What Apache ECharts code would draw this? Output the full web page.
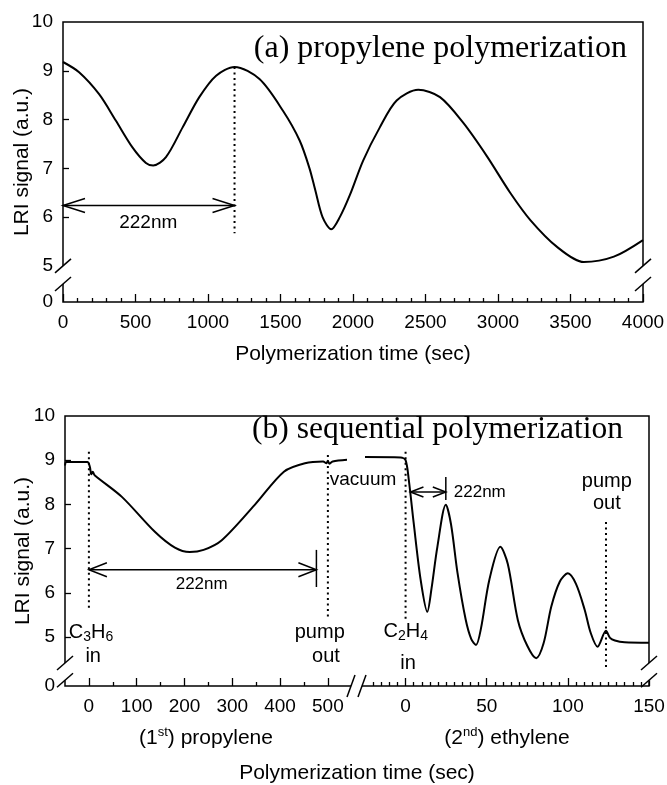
<!DOCTYPE html>
<html>
<head>
<meta charset="utf-8">
<script src="https://cdn.jsdelivr.net/npm/echarts@6.0.0/dist/echarts.min.js"></script>
<style>
  html, body { margin: 0; padding: 0; background: #fff; }
  #chart { width: 667px; height: 785px; }
</style>
</head>
<body>
<div id="chart"></div>
<script>
// (a) propylene polymerization
const propTime = [0, 111, 249, 364, 479, 572, 622, 710, 825, 940, 1056, 1183, 1355, 1517, 1632, 1700, 1740, 1790, 1850, 1909, 1978, 2070, 2185, 2301, 2450, 2600, 2761, 2923, 3084, 3223, 3407, 3591, 3799, 4000];
const propSignal = [9.18, 8.97, 8.52, 7.98, 7.43, 7.11, 7.06, 7.23, 7.84, 8.46, 8.90, 9.08, 8.83, 8.18, 7.57, 7.0, 6.55, 6.0, 5.75, 6.00, 6.45, 7.16, 7.84, 8.39, 8.61, 8.46, 7.93, 7.25, 6.5, 5.94, 5.39, 5.08, 5.19, 5.53];

// (b) sequential polymerization, 1st step propylene
const seqPropTime = [-50, -47, -3, 2, 5, 8, 12, 69, 138, 180, 211, 240, 278, 347, 408, 452, 490, 497, 500, 503, 510, 540];
const seqPropSignal = [8.88, 8.96, 8.96, 8.85, 8.68, 8.74, 8.66, 8.17, 7.38, 7.02, 6.92, 6.97, 7.19, 7.99, 8.74, 8.93, 8.97, 8.93, 8.99, 8.92, 8.97, 9.01];

// (b) 2nd step ethylene
const seqEthTime = [-25, -3, 0, 2, 5, 9.3, 13.4, 16, 19.6, 24.8, 28, 32, 37, 40.5, 43.4, 46.5, 51.6, 58.4, 63, 69.2, 75, 80.5, 85, 89.8, 95, 100, 105, 110.4, 114, 118.3, 123.5, 126, 129, 135, 150];
const seqEthSignal = [9.07, 9.06, 9.0, 8.55, 7.58, 6.29, 5.57, 6.1, 7.04, 7.99, 7.55, 6.45, 5.4, 4.95, 4.82, 5.2, 6.29, 7.04, 6.65, 5.38, 4.8, 4.52, 4.85, 5.69, 6.25, 6.44, 6.2, 5.61, 5.1, 4.78, 5.14, 4.98, 4.92, 4.88, 4.87];

// axis labels / ticks
const yLabels = [5, 6, 7, 8, 9, 10];
const yTicksA = [6, 7, 8, 9];
const yTicksB = [5, 6, 7, 8, 9];
const yMinA = 4.26; // bottom of broken axis, shown as "0"
const yMinB = 3.89;
const xLabelsProp = [0, 100, 200, 300, 400, 500];
const xMinorProp = [50, 150, 250, 350, 450];
const xLabelsEth = [0, 50, 100, 150];
const xMinorEth = [];
for (let t = -20; t < 150; t += 5) if (t % 50 !== 0) xMinorEth.push(t);

const black = '#000';
const sans = '"Liberation Sans", Arial, sans-serif';
const serif = '"Liberation Serif", "Times New Roman", serif';
const tickFont = { color: black, fontSize: 19, fontFamily: sans };
const nameFont = { color: black, fontSize: 21, fontFamily: sans };
const tickLine = { color: black, width: 1.3 };
const noLine = { show: false, onZero: false };
const supRich = {
  n: { fontSize: 21, fontFamily: sans, color: black, lineHeight: 24 },
  sup: { fontSize: 13, fontFamily: sans, color: black, lineHeight: 12, verticalAlign: 'top' }
};

const pairs = (xs, ys) => xs.map((x, i) => [x, ys[i]]);

function yAxisFor(gridIndex, min, ticks, nameGap) {
  return {
    type: 'value', gridIndex, min, max: 10,
    axisLine: noLine, splitLine: { show: false },
    axisTick: { show: true, inside: true, length: 6, lineStyle: tickLine, customValues: ticks },
    axisLabel: { ...tickFont, margin: 10, customValues: [min, ...yLabels],
      formatter: v => (v < 5 ? '0' : String(v)) },
    name: 'LRI signal (a.u.)', nameLocation: 'middle', nameGap, nameMoveOverlap: false, nameTextStyle: nameFont
  };
}

function xMain(gridIndex, min, max, labels, name) {
  return {
    type: 'value', gridIndex, min, max, position: 'bottom',
    axisLine: noLine, splitLine: { show: false },
    axisTick: { inside: true, length: 8, lineStyle: tickLine, customValues: labels },
    axisLabel: { ...tickFont, margin: 11, customValues: labels, formatter: v => String(v) },
    name, nameLocation: 'middle', nameGap: 40, nameMoveOverlap: false, nameTextStyle: { ...nameFont, rich: supRich }
  };
}

function xMinor(gridIndex, min, max, ticks) {
  return {
    type: 'value', gridIndex, min, max, position: 'bottom',
    axisLine: noLine, splitLine: { show: false }, axisLabel: { show: false },
    axisTick: { inside: true, length: 4, lineStyle: tickLine, customValues: ticks }
  };
}

const curve = (x, y, data) => ({
  type: 'line', xAxisIndex: x, yAxisIndex: y, data, smooth: 0.3, showSymbol: false, symbol: 'none',
  lineStyle: { color: black, width: 2 }, silent: true
});

const frame = { show: true, borderColor: black, borderWidth: 1.5, backgroundColor: 'transparent', outerBoundsMode: 'none' };
const plain = { show: false, outerBoundsMode: 'none' };
const titleStyle = { fontFamily: serif, fontSize: 32, fontWeight: 'normal', color: black };

const option = {
  animation: false,
  backgroundColor: '#fff',
  title: [
    { text: '(a) propylene polymerization', right: 40, top: 33, padding: 0, textStyle: titleStyle },
    { text: '(b) sequential polymerization', right: 44, top: 414, padding: 0, textStyle: { ...titleStyle, fontSize: 31.5 } }
  ],
  grid: [
    { left: 63, top: 22, width: 580, height: 280, ...frame },
    { left: 65, top: 416, width: 282, height: 270, ...plain },
    { left: 365, top: 416, width: 284, height: 270, ...plain },
    { left: 65, top: 416, width: 584, height: 270, ...frame }
  ],
  xAxis: [
    {
      type: 'value', gridIndex: 0, min: 0, max: 4000, interval: 500,
      axisLine: noLine, splitLine: { show: false },
      axisTick: { inside: true, length: 8, lineStyle: tickLine },
      minorTick: { show: true, splitNumber: 5, length: 4, lineStyle: tickLine },
      axisLabel: { ...tickFont, margin: 11, formatter: v => String(v) },
      name: 'Polymerization time (sec)', nameLocation: 'middle', nameGap: 42, nameMoveOverlap: false, nameTextStyle: nameFont
    },
    xMain(1, -50, 540, xLabelsProp, '{n|(1}{sup|st}{n|) propylene}'),
    xMinor(1, -50, 540, xMinorProp),
    xMain(2, -25, 150, xLabelsEth, '{n|(2}{sup|nd}{n|) ethylene}'),
    xMinor(2, -25, 150, xMinorEth),
    {
      type: 'value', gridIndex: 3, min: 0, max: 1, position: 'bottom',
      axisLine: noLine, axisTick: { show: false }, axisLabel: { show: false }, splitLine: { show: false },
      name: 'Polymerization time (sec)', nameLocation: 'middle', nameGap: 77, nameMoveOverlap: false, nameTextStyle: nameFont
    }
  ],
  yAxis: [
    yAxisFor(0, yMinA, yTicksA, 30),
    yAxisFor(1, yMinB, yTicksB, 31),
    { type: 'value', gridIndex: 2, min: yMinB, max: 10, show: false, axisLine: noLine },
    { type: 'value', gridIndex: 3, min: 0, max: 1, show: false, axisLine: noLine }
  ],
  series: [
    curve(0, 0, pairs(propTime, propSignal)),
    curve(1, 1, pairs(seqPropTime, seqPropSignal)),
    curve(3, 2, pairs(seqEthTime, seqEthSignal))
  ]
};

const chart = echarts.init(document.getElementById('chart'));
chart.setOption(option);

// annotations, placed through the series' own scales
function overlay() {
  const P = (s, x, y) => chart.convertToPixel({ seriesIndex: s }, [x, y]);
  const g = [];
  const line = (a, b, w, dash) => g.push({
    type: 'line', z: 100, silent: true,
    shape: { x1: a[0], y1: a[1], x2: b[0], y2: b[1] },
    style: { stroke: black, lineWidth: w, lineDash: dash || null }
  });
  const poly = (pts, w) => g.push({
    type: 'polyline', z: 100, silent: true, shape: { points: pts },
    style: { stroke: black, lineWidth: w, fill: null }
  });
  const dotted = (s, x, y1, y2) => line(P(s, x, y1), P(s, x, y2), 2, [2, 3.5]);
  const bar = (s, x, y1, y2) => line(P(s, x, y1), P(s, x, y2), 1.5);
  const arrow = (s, x1, x2, y, len, half) => {
    const a = P(s, x1, y), b = P(s, x2, y);
    line(a, b, 1.5);
    poly([[a[0] + len, a[1] - half], a, [a[0] + len, a[1] + half]], 1.5);
    poly([[b[0] - len, b[1] - half], b, [b[0] - len, b[1] + half]], 1.5);
  };
  const text = (s, x, y, str, align, size, rich) => {
    const p = P(s, x, y);
    g.push({ type: 'text', z: 100, silent: true, x: p[0], y: p[1],
      style: { text: str, fill: black, font: size + 'px ' + sans, align, verticalAlign: 'middle', rich } });
  };
  const chem = {
    n: { fontSize: 20, fontFamily: sans, fill: black, lineHeight: 24 },
    s: { fontSize: 14, fontFamily: sans, fill: black, lineHeight: 12, verticalAlign: 'bottom' }
  };
  // broken y axes
  const gapY = (s, x, v1, v2) => {
    const a = P(s, x, v1), b = P(s, x, v2);
    g.push({ type: 'rect', z: 99, silent: true, shape: { x: a[0] - 3, y: a[1], width: 6, height: b[1] - a[1] }, style: { fill: '#fff' } });
    [a, b].forEach(p => line([p[0] - 8, p[1] + 7], [p[0] + 8, p[1] - 7], 1.5));
  };
  gapY(0, 0, 5.0, 4.63);
  gapY(0, 4000, 5.0, 4.63);
  gapY(1, -50, 4.41, 4.02);
  gapY(2, 150, 4.41, 4.02);
  // broken time axis in (b)
  const l = P(1, 540, yMinB), r = P(2, -25, yMinB);
  const c1 = l[0] + 4, c2 = r[0] - 3;
  g.push({ type: 'rect', z: 99, silent: true, shape: { x: c1, y: l[1] - 3, width: c2 - c1, height: 6 }, style: { fill: '#fff' } });
  [c1, c2].forEach(c => line([c - 4, l[1] + 11], [c + 4, l[1] - 11], 1.5));

  // (a)
  dotted(0, 1183, 9.08, 5.67);
  arrow(0, 0, 1183, 6.24, 22, 7);
  text(0, 588, 5.88, '222nm', 'center', 19);

  // (b) propylene
  dotted(1, 0, 9.19, 5.66);
  dotted(1, 500, 9.12, 5.45);
  arrow(1, 0, 476, 6.52, 18, 7);
  bar(1, 476, 6.97, 6.13);
  text(1, 236, 6.18, '222nm', 'center', 17);
  text(1, -42, 5.1, '{n|C}{s|3}{n|H}{s|6}', 'left', 20, chem);
  text(1, 9, 4.55, 'in', 'center', 20);
  text(1, 483, 5.11, 'pump', 'center', 20);
  text(1, 496, 4.55, 'out', 'center', 20);
  text(1, 504, 8.55, 'vacuum', 'left', 19);

  // (b) ethylene
  dotted(2, 0, 9.19, 5.38);
  dotted(2, 123.5, 7.6, 4.3);
  arrow(2, 3, 24.8, 8.28, 13, 5);
  bar(2, 24.8, 8.62, 8.1);
  text(2, 29.7, 8.28, '222nm', 'left', 17);
  text(2, -13.6, 5.13, '{n|C}{s|2}{n|H}{s|4}', 'left', 20, chem);
  text(2, 1.5, 4.41, 'in', 'center', 20);
  text(2, 124, 8.51, 'pump', 'center', 20);
  text(2, 124, 8.03, 'out', 'center', 20);

  chart.setOption({ graphic: g });
}
overlay();
</script>
</body>
</html>
